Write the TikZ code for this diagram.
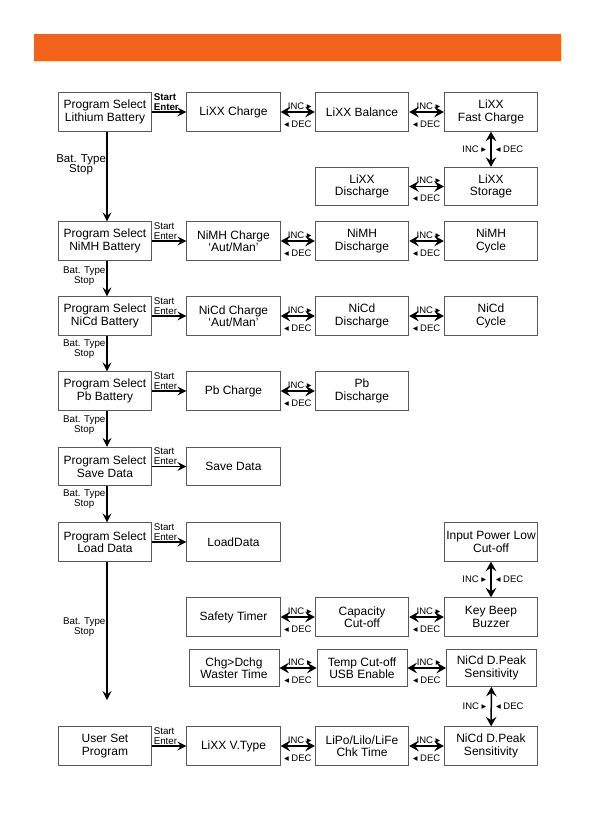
\documentclass[tikz,border=0pt]{standalone}
\usepackage{fontspec}
\setmainfont{Liberation Sans}
\newfontfamily\symfont{DejaVu Sans}
\usepackage{xcolor}
\usepackage{tikz}
\usetikzlibrary{arrows.meta,calc}
\definecolor{bandorange}{RGB}{243,98,26}
\tikzstyle{centered} = [align=center, text centered]
\tikzstyle{pbox} = [centered, draw=black!65, line width=0.8pt, minimum width=93.5pt, minimum height=38.5pt, inner sep=1pt, font=\fontsize{12}{12.5}\selectfont]
\tikzstyle{sbox} = [pbox, minimum width=90pt, minimum height=37pt]
\tikzstyle{lbl} = [centered, inner sep=1pt, font=\fontsize{9.8}{10}\selectfont]
\tikzstyle{keylbl} = [inner sep=2pt, font=\fontsize{9.5}{10}\selectfont]
\tikzstyle{nextarr} = [line width=1.2pt, -{Stealth[length=9pt,width=9pt,inset=3.5pt]}]
\tikzstyle{incdec} = [line width=1.5pt, {Stealth[length=9.5pt,width=10.5pt,inset=3.5pt]}-{Stealth[length=9.5pt,width=10.5pt,inset=3.5pt]}]
\newcommand{\incmark}{INC {\symfont▸}}
\newcommand{\decmark}{{\symfont◂} DEC}

\begin{document}
\begin{tikzpicture}[x=1pt,y=-1pt]
  \useasboundingbox (0,0) rectangle (596,840);
  \fill[bandorange] (34,34) rectangle (561,61);

  % lithium
  \node[pbox] (li) at (105,112) {Program Select\\Lithium Battery};
  \node[pbox] (lichg) at (233.5,112) {LiXX Charge};
  \node[pbox] (libal) at (362,112) {LiXX Balance};
  \node[pbox] (lifast) at (491,112) {LiXX\\Fast Charge};
  \node[pbox] (lidis) at (362,186.5) {LiXX\\Discharge};
  \node[pbox] (listo) at (491,186.5) {LiXX\\Storage};
  % nimh
  \node[pbox] (nimh) at (105,241) {Program Select\\NiMH Battery};
  \node[pbox] (nimhchg) at (233.5,241) {NiMH Charge\\‘Aut/Man’};
  \node[pbox] (nimhdis) at (362,241) {NiMH\\Discharge};
  \node[pbox] (nimhcyc) at (491,241) {NiMH\\Cycle};
  % nicd
  \node[pbox] (nicd) at (105,316) {Program Select\\NiCd Battery};
  \node[pbox] (nicdchg) at (233.5,316) {NiCd Charge\\‘Aut/Man’};
  \node[pbox] (nicddis) at (362,316) {NiCd\\Discharge};
  \node[pbox] (nicdcyc) at (491,316) {NiCd\\Cycle};
  % pb
  \node[pbox] (pb) at (105,391) {Program Select\\Pb Battery};
  \node[pbox] (pbchg) at (233.5,391) {Pb Charge};
  \node[pbox] (pbdis) at (362,391) {Pb\\Discharge};
  % save / load
  \node[pbox] (save) at (105,466.5) {Program Select\\Save Data};
  \node[pbox] (savedat) at (233.5,466.5) {Save Data};
  \node[pbox] (load) at (105,542) {Program Select\\Load Data};
  \node[pbox] (loaddat) at (233.5,542) {LoadData};
  % user set
  \node[pbox] (power) at (491,542) {Input Power Low\\Cut-off};
  \node[pbox] (timer) at (233.5,617) {Safety Timer};
  \node[pbox] (cap) at (362,617) {Capacity\\Cut-off};
  \node[pbox] (beep) at (491,617) {Key Beep\\Buzzer};
  \node[sbox] (waste) at (234,668) {Chg>Dchg\\Waster Time};
  \node[sbox] (temp) at (362,668) {Temp Cut-off\\USB Enable};
  \node[sbox] (peak) at (491.5,668) {NiCd D.Peak\\Sensitivity};
  \node[pbox] (user) at (105,746) {User Set\\Program};
  \node[pbox] (vtype) at (233.5,746) {LiXX V.Type};
  \node[pbox] (chk) at (362,746) {LiPo/Lilo/LiFe\\Chk Time};
  \node[pbox] (peakset) at (491,746) {NiCd D.Peak\\Sensitivity};
  \coordinate (userin) at (107,700);

  % start / enter
  \draw[nextarr] (li.east) -- (lichg.west) node[pos=0, above right, lbl, align=left, font=\fontsize{9.8}{10}\bfseries] {Start\\Enter};
  \draw[nextarr] (nimh.east) -- (nimhchg.west) node[pos=0, above right, lbl, align=left] {Start\\Enter};
  \draw[nextarr] (nicd.east) -- (nicdchg.west) node[pos=0, above right, lbl, align=left] {Start\\Enter};
  \draw[nextarr] (pb.east) -- (pbchg.west) node[pos=0, above right, lbl, align=left] {Start\\Enter};
  \draw[nextarr] (save.east) -- (savedat.west) node[pos=0, above right, lbl, align=left] {Start\\Enter};
  \draw[nextarr] (load.east) -- (loaddat.west) node[pos=0, above right, lbl, align=left] {Start\\Enter};
  \draw[nextarr] (user.east) -- (vtype.west) node[pos=0, above right, lbl, align=left] {Start\\Enter};

  % bat. type / stop
  \draw[nextarr] ([xshift=2pt]li.south) -- node[pos=0.37, left, lbl, inner sep=0.5pt, font=\fontsize{11.5}{10.5}\selectfont] {Bat. Type\\Stop} ([xshift=2pt]nimh.north);
  \draw[nextarr] ([xshift=2pt]nimh.south) -- node[pos=0.42, left, lbl] {Bat. Type\\Stop} ([xshift=2pt]nicd.north);
  \draw[nextarr] ([xshift=2pt]nicd.south) -- node[pos=0.37, left, lbl] {Bat. Type\\Stop} ([xshift=2pt]pb.north);
  \draw[nextarr] ([xshift=2pt]pb.south) -- node[pos=0.4, left, lbl] {Bat. Type\\Stop} ([xshift=2pt]save.north);
  \draw[nextarr] ([xshift=2pt]save.south) -- node[pos=0.35, left, lbl] {Bat. Type\\Stop} ([xshift=2pt]load.north);
  \draw[nextarr] ([xshift=2pt]load.south) -- node[pos=0.47, left, lbl] {Bat. Type\\Stop} (userin);

  % inc / dec, across
  \foreach \a/\b in {lichg/libal, libal/lifast, lidis/listo, nimhchg/nimhdis, nimhdis/nimhcyc,
      nicdchg/nicddis, nicddis/nicdcyc, pbchg/pbdis, timer/cap, cap/beep,
      waste/temp, temp/peak, vtype/chk, chk/peakset}
    \draw[incdec] (\a) -- node[above, keylbl, xshift=2pt] {\incmark} node[below, keylbl, yshift=-6pt] {\decmark} (\b);

  % inc / dec, down
  \foreach \a/\b in {lifast/listo, power/beep, peak/peakset}
    \draw[incdec] (\a) -- node[left, keylbl, inner sep=4pt] {\incmark} node[right, keylbl, inner sep=4pt] {\decmark} (\b);
\end{tikzpicture}
\end{document}
